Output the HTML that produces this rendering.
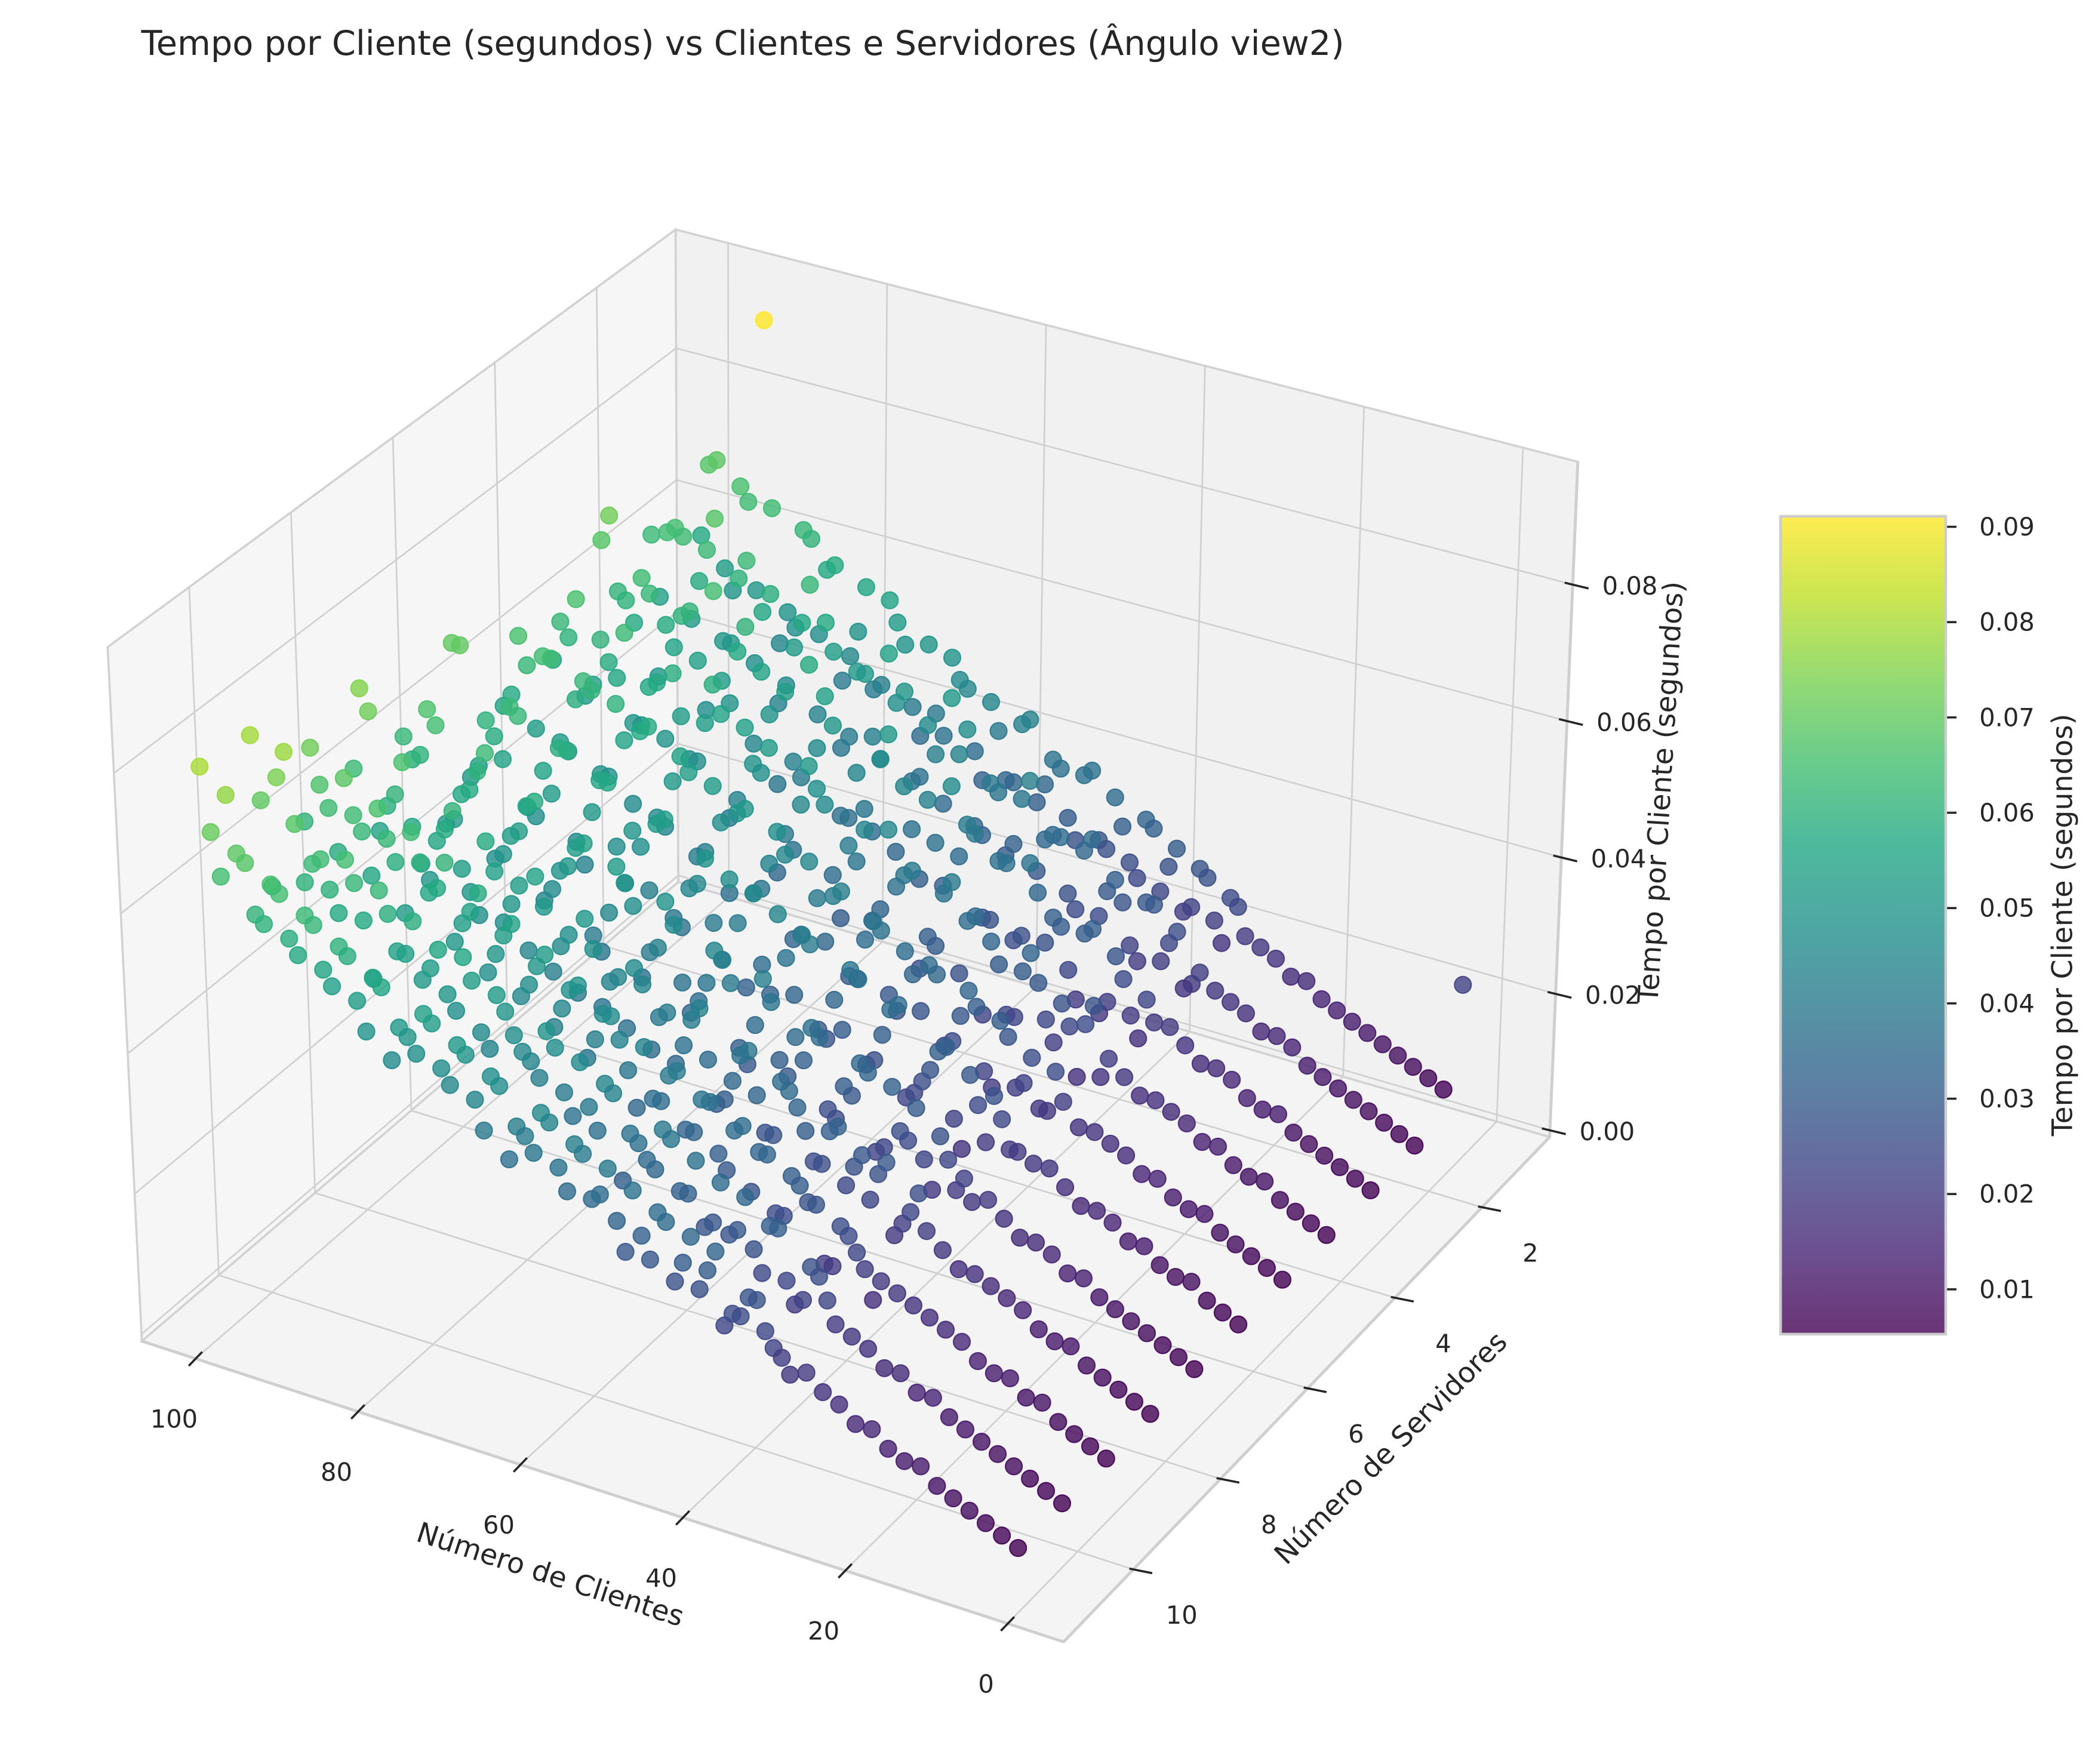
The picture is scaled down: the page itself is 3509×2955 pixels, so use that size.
<!DOCTYPE html>
<html><head><meta charset="utf-8"><style>
html,body{margin:0;padding:0;background:#fff;}
svg{display:block;font-family:"DejaVu Sans","Liberation Sans",sans-serif;}
</style></head><body>
<svg id="chart" xmlns="http://www.w3.org/2000/svg" width="3509" height="2955" viewBox="0 0 1560 1314">
<text x="105" y="41" font-size="25.5" fill="#262626">Tempo por Cliente (segundos) vs Clientes e Servidores (Ângulo view2)</text>
<g id="panes"></g>
<g id="grid"></g>
<g id="edges"></g>
<g id="ticks"></g>
<g id="points"></g>
<text x="410" y="1180" font-size="21" fill="#262626" text-anchor="middle" transform="rotate(18 410 1172)">Número de Clientes</text>
<text x="1035" y="1086" font-size="21" fill="#262626" text-anchor="middle" transform="rotate(-45 1035 1078)">Número de Servidores</text>
<text x="1236" y="598" font-size="21" fill="#262626" text-anchor="middle" transform="rotate(-86.5 1236 590)">Tempo por Cliente (segundos)</text>
<defs>
<linearGradient id="vir" x1="0" y1="1" x2="0" y2="0">
<stop offset="0" stop-color="#440154"/><stop offset="0.1" stop-color="#482475"/><stop offset="0.2" stop-color="#414487"/><stop offset="0.3" stop-color="#355f8d"/><stop offset="0.4" stop-color="#2a788e"/><stop offset="0.5" stop-color="#21918c"/><stop offset="0.6" stop-color="#22a884"/><stop offset="0.7" stop-color="#44bf70"/><stop offset="0.8" stop-color="#7ad151"/><stop offset="0.9" stop-color="#bddf26"/><stop offset="1" stop-color="#fde725"/>
</linearGradient></defs>
<rect x="1326" y="384.6" width="123" height="609.2" fill="url(#vir)" fill-opacity="0.8" stroke="#cccccc" stroke-width="2"/>
<g id="cbticks"></g>
<text x="1535" y="697" font-size="21" fill="#262626" text-anchor="middle" transform="rotate(-90 1535 689)">Tempo por Cliente (segundos)</text>
</svg>
<script>
const clients=[2,4,6,8,10,12,14,16,18,20,22,24,26,28,30,32,34,36,38,40,42,44,46,48,50,52,54,56,58,60,62,64,66,68,70,72,74,76,78,80,82,84,86,88,90,92,94,96,98,100];
const clientsOdd=[31,33,35,37,39,41,43,45,47,49,51,53,55,57,59,61,63,65,67,69,71,73,75,77,79,81,83,85,87,89,91,93,95,97,99];
const servers=[1,2,3,4,5,6,7,8,9,10,11];
const t_s1=[22,6,7,8,9,10,11,12,13,14,16,16,18,19,20,25,21,28,21,27,32,24,31,27,38,27,37,34,43,33,40,32,45,49,40,36,49,55,41,49,41,57,61,47,44,92,64,50,69,57];
const t_s2=[5,6,7,8,9,10,11,12,14,15,15,17,18,19,21,18,24,29,20,28,29,36,25,35,34,42,32,39,32,47,51,42,38,50,55,42,51,39,57,62,52,43,56,63,50,68,58,64,64,63];
const t_s3=[5,6,7,8,9,10,12,12,13,15,16,16,18,20,20,17,25,21,31,20,30,27,38,26,37,28,41,46,37,31,44,51,36,44,37,54,58,43,39,55,61,49,65,54,60,58,62,57,61,68];
const t_s4=[5,6,7,8,10,10,11,13,13,15,16,17,17,19,21,28,17,27,24,33,23,30,22,35,40,30,26,39,45,31,39,30,46,51,38,34,48,54,40,59,47,53,49,56,50,56,61,52,60,56];
const t_s5=[5,6,7,8,9,11,11,12,14,14,16,17,18,18,21,19,26,21,30,22,33,25,34,28,36,29,39,30,42,34,45,33,48,39,50,37,52,41,55,44,58,46,60,49,62,51,64,53,66,55];
const t_s6=[5,6,7,9,9,10,12,12,14,15,15,17,19,19,20,24,20,29,22,31,26,23,35,27,38,30,28,41,33,44,36,32,47,40,45,38,53,42,50,47,56,43,59,52,48,62,55,60,51,70];
const t_s7=[5,6,7,8,9,10,11,13,13,15,16,16,18,20,19,20,27,23,25,32,22,34,30,26,37,35,31,42,29,40,44,36,38,49,41,47,52,39,54,50,46,58,53,49,63,57,52,65,60,62];
const t_s8=[5,6,7,8,9,11,11,12,14,15,16,17,17,19,21,23,19,27,29,24,31,26,33,36,28,39,34,30,43,37,41,35,46,44,39,51,48,42,55,53,47,58,50,61,56,52,66,59,72,63];
const t_s9=[5,6,7,8,10,10,12,12,13,15,16,17,18,19,20,21,25,20,28,30,25,33,27,35,31,38,33,40,36,34,43,46,39,48,42,50,45,53,47,55,50,57,60,52,62,56,64,58,67,61];
const t_s10=[5,6,7,8,9,10,11,12,14,14,16,16,18,19,20,26,22,24,31,27,29,35,28,32,39,34,37,31,44,40,38,47,42,45,50,44,53,48,56,51,54,59,49,62,57,64,60,78,58,79];
const t_s11=[5,6,7,8,9,10,12,12,13,15,15,17,18,20,19,22,28,25,23,30,34,27,36,32,29,40,35,42,38,45,41,37,48,44,51,47,54,50,46,57,53,60,56,63,59,66,61,69,65,80];
const u_s1=[24,18,27,22,30,23,33,26,35,28,37,30,38,31,42,33,44,36,46,37,50,40,52,42,56,45,58,47,62,49,64,51,66,53,68];
const u_s2=[19,26,21,29,22,31,25,34,27,35,29,39,30,40,33,43,35,46,37,48,39,51,41,53,43,56,46,59,48,60,50,63,52,65,54];
const u_s3=[23,20,28,19,30,24,31,34,27,37,28,40,36,31,43,38,34,47,39,37,50,46,41,53,49,44,57,52,47,61,55,50,64,60,72];
const u_s4=[18,25,24,21,29,30,23,33,36,27,38,31,40,37,33,44,41,36,48,45,40,52,49,43,55,53,47,59,57,50,63,58,54,66,62];
const u_s5=[25,19,22,28,20,31,29,24,35,33,27,38,36,30,41,40,34,45,43,38,49,47,42,53,51,45,57,55,49,61,59,52,64,62,57];
const u_s6=[20,27,25,18,32,28,24,36,31,26,39,34,29,42,38,32,46,41,35,49,44,39,52,48,42,56,51,46,59,55,49,63,58,53,70];
const u_s7=[22,24,19,30,26,23,33,29,25,36,32,29,39,35,31,43,39,34,46,42,37,50,45,41,53,49,44,57,52,48,60,56,51,67,59];
const u_s8=[26,21,29,23,27,32,26,30,35,28,33,38,31,36,41,34,40,44,37,43,47,40,46,51,44,50,54,47,53,58,50,57,61,55,75];
const u_s9=[17,23,26,20,28,31,25,33,36,29,38,33,41,36,43,39,46,42,49,45,52,47,55,50,58,53,61,56,64,59,66,62,69,64,72];
const u_s10=[23,27,21,31,24,34,28,29,37,32,40,35,38,43,37,46,41,49,44,47,52,46,56,50,53,59,54,62,57,65,60,63,68,74,70];
const u_s11=[21,24,28,25,33,27,30,35,29,38,33,36,41,35,44,39,42,47,40,50,45,53,48,51,56,49,59,54,62,57,65,60,68,77,71];
const times=[t_s1,t_s2,t_s3,t_s4,t_s5,t_s6,t_s7,t_s8,t_s9,t_s10,t_s11];
const timesOdd=[u_s1,u_s2,u_s3,u_s4,u_s5,u_s6,u_s7,u_s8,u_s9,u_s10,u_s11];
const clientTicks=[0,20,40,60,80,100];
const serverTicks=[2,4,6,8,10];
const zTicks=[0,0.02,0.04,0.06,0.08];
const zTickLabels=["0.00","0.02","0.04","0.06","0.08"];
const cbTicks=[0.01,0.02,0.03,0.04,0.05,0.06,0.07,0.08,0.09];

const NS="http://www.w3.org/2000/svg";
const cMin=-6.9,cMax=106.6,sMin=0.45,sMax=11.6,zMin=-0.001,zMax=0.098;
const vMin=0.0053,vMax=0.0911;
const F1=[105.5,999],F2=[792,1223],F3=[1154,847],F4=[505,657];
const T1=[80,482],T2=[798,688],T3=[1175,344],T4=[503,171];
function U(c){return (c-cMin)/(cMax-cMin);}
function V(s){return (s-sMin)/(sMax-sMin);}
function W(z){return (z-zMin)/(zMax-zMin);}
function bil(a00,a10,a01,a11,u,v,k){return a00[k]*(1-u)*(1-v)+a10[k]*u*(1-v)+a01[k]*(1-u)*v+a11[k]*u*v;}
function P(u,v,w){
  const bx=bil(F3,F4,F2,F1,u,v,0),by=bil(F3,F4,F2,F1,u,v,1);
  const tx=bil(T3,T4,T2,T1,u,v,0),ty=bil(T3,T4,T2,T1,u,v,1);
  return [bx*(1-w)+tx*w,by*(1-w)+ty*w];
}
function mk(tag,attrs,parent){const e=document.createElementNS(NS,tag);for(const k in attrs)e.setAttribute(k,attrs[k]);parent.appendChild(e);return e;}
function poly(pts){return pts.map(p=>p[0].toFixed(2)+","+p[1].toFixed(2)).join(" ");}
const stops=[[0,68,1,84],[0.1,72,36,117],[0.2,65,68,135],[0.3,53,95,141],[0.4,42,120,142],[0.5,33,145,140],[0.6,34,168,132],[0.7,68,191,112],[0.8,122,209,81],[0.9,189,223,38],[1,253,231,37]];
function viridis(t){t=Math.max(0,Math.min(1,t));for(let i=1;i<stops.length;i++){if(t<=stops[i][0]){const a=stops[i-1],b=stops[i],f=(t-a[0])/(b[0]-a[0]);return "rgb("+[1,2,3].map(k=>Math.round(a[k]+(b[k]-a[k])*f)).join(",")+")";}}return "rgb(253,231,37)";}

const panes=document.getElementById('panes');
let e;
e=mk('polygon',{points:poly([F1,F4,T4,T1]),fill:'#f6f6f6',stroke:'#d2d2d2','stroke-width':1.6},panes);


e=mk('polygon',{points:poly([F4,F3,T3,T4]),fill:'#f1f1f1',stroke:'#d2d2d2','stroke-width':1.6},panes);


e=mk('polygon',{points:poly([F1,F2,F3,F4]),fill:'#f4f4f4',stroke:'#d2d2d2','stroke-width':1.6},panes);



const grid=document.getElementById('grid');
function gl(a,b,name){const l=mk('line',{x1:a[0],y1:a[1],x2:b[0],y2:b[1],stroke:'#d0d0d0','stroke-width':1.2},grid);}
clientTicks.forEach(c=>{const u=U(c);gl(P(u,0,0),P(u,1,0),'floor-grid-clients');gl(P(u,0,0),P(u,0,1),'back-grid-clients');});
serverTicks.forEach(s=>{const v=V(s);gl(P(0,v,0),P(1,v,0),'floor-grid-servers');gl(P(1,v,0),P(1,v,1),'left-grid-servers');});
zTicks.forEach(z=>{const w=W(z);gl(P(0,0,w),P(1,0,w),'back-grid-z');gl(P(1,0,w),P(1,1,w),'left-grid-z');});

const edges=document.getElementById('edges');
function ed(a,b,name){const l=mk('line',{x1:a[0],y1:a[1],x2:b[0],y2:b[1],stroke:'#cfcfcf','stroke-width':2.2},edges);}
ed(F1,F2,'clients-axis-line');ed(F2,F3,'servers-axis-line');ed(F3,T3,'z-axis-line');

const ticks=document.getElementById('ticks');
function tk(p,d1,d2,name){const l=mk('line',{x1:p[0]+d1[0],y1:p[1]+d1[1],x2:p[0]+d2[0],y2:p[1]+d2[1],stroke:'#262626','stroke-width':1.6},ticks);}
function tl(x,y,txt,anchor,name){const t=mk('text',{x:x,y:y,'font-size':18.5,fill:'#262626','text-anchor':anchor,'dominant-baseline':'central'},ticks);t.textContent=txt;}
clientTicks.forEach(c=>{const p=P(U(c),1,0);tk(p,[5,-5],[-5,5.4],'clients-tick');tl(p[0]-16,p[1]+45,String(c),'middle','clients-tick-label');});
serverTicks.forEach(s=>{const p=P(0,V(s),0);tk(p,[-3,-0.6],[14,2.8],'servers-tick');tl(p[0]+36,p[1]+34,String(s),'middle','servers-tick-label');});
zTicks.forEach((z,i)=>{const p=P(0,0,W(z));tk(p,[-6,-1.4],[11.8,2.9],'z-tick');tl(p[0]+22,p[1]+1,zTickLabels[i],'start','z-tick-label');});

const cb=document.getElementById('cbticks');
cbTicks.forEach(v=>{const y=993.8-(v-vMin)/(vMax-vMin)*609.2;
  const l=mk('line',{x1:1450,y1:y,x2:1457,y2:y,stroke:'#262626','stroke-width':1.6},cb);
  
  
  const t=mk('text',{x:1474,y:y,'font-size':18.5,fill:'#262626','dominant-baseline':'central'},cb);
  t.textContent=v.toFixed(2);
  
  
});

const pts=[];
servers.forEach((s,si)=>{
  clients.forEach((c,ci)=>{const z=times[si][ci]/1000;const u=U(c),v=V(s),w=W(z);pts.push({z,u,v,w,key:v-u});});
  clientsOdd.forEach((c,ci)=>{const z=timesOdd[si][ci]/1000;const u=U(c),v=V(s),w=W(z);pts.push({z,u,v,w,key:v-u});});
});
pts.sort((a,b)=>a.key-b.key);
const pg=document.getElementById('points');
pts.forEach(d=>{const p=P(d.u,d.v,d.w);const col=viridis((d.z-vMin)/(vMax-vMin));
  const ci=mk('circle',{cx:p[0].toFixed(2),cy:p[1].toFixed(2),r:6.2,fill:col,'fill-opacity':0.8,stroke:col,'stroke-opacity':0.9,'stroke-width':1},pg);
  
  
});
</script>
</body></html>
